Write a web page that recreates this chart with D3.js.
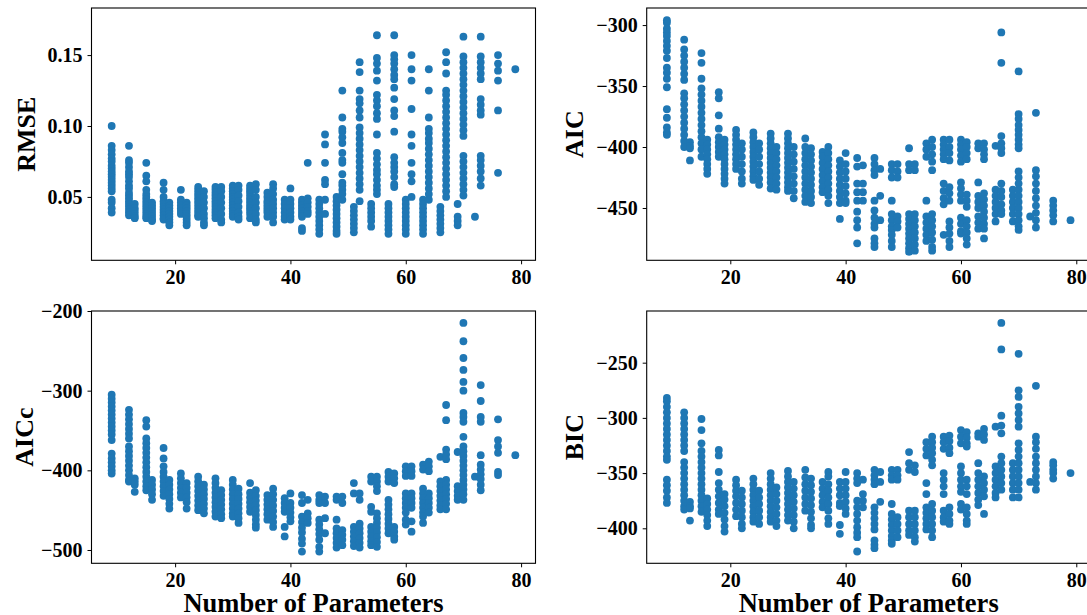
<html>
    <head>
        <meta charset="utf-8">
        <script src="https://cdnjs.cloudflare.com/ajax/libs/d3/7.8.5/d3.min.js"></script>
    </head>
    <style>
        body { margin: 0; background: white; }
        text { font-family: "Liberation Serif", "Times New Roman", serif; font-weight: bold; }
        .tick text { font-size: 20px; fill: black; }
        .tick line { stroke: black; stroke-width: 1; }
        rect.frame { fill: none; stroke: black; stroke-width: 1.1; }
        circle.dot { fill: #1f77b4; }
        text.ylab { font-size: 26px; fill: black; }
        text.xlab { font-size: 26.5px; fill: black; }
    </style>
    <body>
        <svg id="chart" width="1087" height="615"></svg>
        <script>
            // x ticks shared by all four panels
            var xTicks = [20, 40, 60, 80];

            // [number of parameters, values of all models with that count]
            var rmse = [
                [9, [0.100, 0.086, 0.083, 0.080, 0.077, 0.075, 0.072, 0.070, 0.068, 0.066, 0.064, 0.062, 0.060, 0.058, 0.056, 0.054, 0.048, 0.046, 0.042, 0.039]],
                [12, [0.086, 0.076, 0.074, 0.071, 0.068, 0.066, 0.064, 0.061, 0.058, 0.056, 0.053, 0.051, 0.049, 0.047, 0.045, 0.043, 0.041, 0.039, 0.037]],
                [13, [0.045, 0.042, 0.040, 0.038, 0.036, 0.035]],
                [15, [0.074, 0.065, 0.061, 0.055, 0.052, 0.050, 0.048, 0.046, 0.044, 0.042, 0.040, 0.038, 0.036, 0.035]],
                [16, [0.046, 0.044, 0.042, 0.040, 0.038, 0.036, 0.034, 0.033]],
                [18, [0.060, 0.055, 0.050, 0.047, 0.045, 0.043, 0.041, 0.039, 0.037, 0.035, 0.034]],
                [19, [0.046, 0.044, 0.042, 0.040, 0.038, 0.036, 0.034, 0.032, 0.030]],
                [21, [0.055, 0.048, 0.046, 0.044, 0.042, 0.040, 0.038]],
                [22, [0.046, 0.044, 0.042, 0.040, 0.038, 0.036, 0.034, 0.032, 0.030]],
                [24, [0.057, 0.055, 0.053, 0.051, 0.049, 0.047, 0.045, 0.043, 0.041, 0.039, 0.037, 0.036]],
                [25, [0.054, 0.050, 0.046, 0.042, 0.038, 0.035, 0.032, 0.030]],
                [27, [0.057, 0.055, 0.053, 0.051, 0.049, 0.047, 0.045, 0.043, 0.041, 0.039, 0.037, 0.035]],
                [28, [0.057, 0.054, 0.050, 0.046, 0.042, 0.038, 0.034, 0.032]],
                [30, [0.058, 0.056, 0.054, 0.052, 0.050, 0.048, 0.046, 0.044, 0.042, 0.040, 0.038, 0.036]],
                [31, [0.058, 0.055, 0.051, 0.047, 0.043, 0.039, 0.036, 0.034]],
                [33, [0.058, 0.056, 0.054, 0.052, 0.050, 0.048, 0.046, 0.044, 0.042, 0.040, 0.038, 0.035]],
                [34, [0.059, 0.055, 0.050, 0.046, 0.042, 0.038, 0.034, 0.032]],
                [36, [0.053, 0.050, 0.047, 0.045, 0.043, 0.041, 0.039, 0.036]],
                [37, [0.059, 0.056, 0.052, 0.048, 0.045, 0.042, 0.039, 0.036, 0.032]],
                [39, [0.048, 0.045, 0.042, 0.039, 0.036, 0.034]],
                [40, [0.056, 0.048, 0.045, 0.042, 0.039, 0.036, 0.034]],
                [42, [0.048, 0.046, 0.044, 0.042, 0.040, 0.038, 0.036, 0.028, 0.026]],
                [43, [0.074, 0.049, 0.046, 0.043, 0.040, 0.038]],
                [45, [0.048, 0.045, 0.042, 0.039, 0.036, 0.033, 0.030, 0.027, 0.024]],
                [46, [0.094, 0.087, 0.074, 0.062, 0.059, 0.048, 0.038]],
                [48, [0.050, 0.047, 0.044, 0.041, 0.038, 0.035, 0.032, 0.029, 0.026, 0.024]],
                [49, [0.125, 0.106, 0.098, 0.096, 0.092, 0.088, 0.081, 0.076, 0.074, 0.066, 0.060, 0.058, 0.055, 0.052, 0.048]],
                [51, [0.043, 0.040, 0.037, 0.034, 0.031, 0.028, 0.025]],
                [52, [0.145, 0.138, 0.125, 0.119, 0.116, 0.111, 0.106, 0.099, 0.095, 0.091, 0.087, 0.083, 0.079, 0.075, 0.071, 0.067, 0.063, 0.059, 0.055, 0.047]],
                [54, [0.045, 0.042, 0.039, 0.036, 0.033, 0.029]],
                [55, [0.164, 0.148, 0.144, 0.139, 0.132, 0.122, 0.118, 0.114, 0.109, 0.105, 0.094, 0.081, 0.077, 0.073, 0.069, 0.066, 0.062, 0.058, 0.055, 0.052]],
                [57, [0.045, 0.042, 0.039, 0.036, 0.033, 0.030, 0.027, 0.024]],
                [58, [0.164, 0.150, 0.147, 0.144, 0.140, 0.136, 0.133, 0.127, 0.119, 0.111, 0.107, 0.096, 0.078, 0.074, 0.071, 0.068, 0.064, 0.059, 0.057]],
                [60, [0.048, 0.045, 0.042, 0.039, 0.036, 0.033, 0.030, 0.027, 0.024]],
                [61, [0.150, 0.140, 0.132, 0.112, 0.094, 0.086, 0.074, 0.066, 0.061, 0.050]],
                [63, [0.048, 0.045, 0.042, 0.039, 0.036, 0.033, 0.030, 0.027, 0.024]],
                [64, [0.140, 0.125, 0.106, 0.098, 0.095, 0.091, 0.088, 0.084, 0.080, 0.076, 0.072, 0.068, 0.064, 0.060, 0.056, 0.052, 0.048]],
                [66, [0.043, 0.040, 0.037, 0.034, 0.031, 0.028, 0.025]],
                [67, [0.152, 0.145, 0.137, 0.125, 0.122, 0.118, 0.114, 0.110, 0.106, 0.102, 0.098, 0.094, 0.090, 0.086, 0.082, 0.078, 0.074, 0.070, 0.066, 0.062, 0.058, 0.054, 0.050]],
                [69, [0.045, 0.036, 0.033, 0.030]],
                [70, [0.163, 0.149, 0.145, 0.141, 0.137, 0.133, 0.129, 0.125, 0.121, 0.117, 0.113, 0.109, 0.105, 0.101, 0.097, 0.093, 0.079, 0.075, 0.071, 0.067, 0.063, 0.059, 0.055, 0.051]],
                [72, [0.036]],
                [73, [0.163, 0.149, 0.145, 0.141, 0.137, 0.133, 0.119, 0.115, 0.111, 0.108, 0.079, 0.076, 0.072, 0.068, 0.063, 0.058]],
                [76, [0.150, 0.144, 0.139, 0.132, 0.111, 0.067]],
                [79, [0.140]]
            ];

            var aic = [
                [9, [-296, -298, -303, -306, -309, -313, -317, -321, -327, -335, -339, -344, -351, -369, -376, -384, -388, -390]],
                [12, [-312, -320, -325, -330, -335, -340, -345, -356, -360, -365, -370, -375, -380, -385, -390, -395, -400]],
                [13, [-396, -399, -401, -411]],
                [15, [-323, -331, -344, -352, -357, -362, -367, -372, -377, -382, -387, -392, -397, -402, -408]],
                [16, [-394, -398, -402, -406, -410, -414, -418, -422]],
                [18, [-355, -360, -374, -385, -392, -396, -400, -404, -408]],
                [19, [-394, -398, -402, -406, -410, -414, -418, -422, -426, -430]],
                [21, [-386, -390, -394, -398, -402, -406, -410, -414, -418]],
                [22, [-397, -402, -408, -414, -420, -426, -430]],
                [24, [-388, -392, -396, -400, -404, -408, -412, -416, -420, -424, -427]],
                [25, [-397, -402, -408, -414, -420, -426, -431]],
                [27, [-389, -393, -397, -401, -405, -409, -413, -417, -421, -425, -429, -434]],
                [28, [-400, -405, -410, -415, -420, -425, -430, -435]],
                [30, [-389, -393, -397, -401, -405, -409, -413, -417, -421, -425, -429, -433, -436]],
                [31, [-400, -406, -412, -418, -424, -430, -436, -442]],
                [33, [-393, -400, -405, -410, -415, -420, -425, -430, -435, -440, -445]],
                [34, [-401, -406, -411, -416, -421, -426, -431, -436, -441, -446]],
                [36, [-404, -408, -413, -418, -423, -428, -433, -437]],
                [37, [-400, -405, -410, -415, -420, -425, -430, -435, -440, -446]],
                [39, [-411, -416, -421, -426, -431, -436, -441, -446, -459]],
                [40, [-405, -414, -420, -426, -432, -438, -444, -446]],
                [42, [-409, -416, -430, -437, -444, -453, -460, -466, -479]],
                [43, [-415, -430, -437, -444]],
                [45, [-409, -414, -419, -423, -444, -452, -458, -463, -466, -475, -479, -482]],
                [46, [-418, -440, -460]],
                [48, [-414, -419, -425, -444, -455, -460, -465, -468, -472, -477, -482]],
                [49, [-414, -420, -425, -457, -461, -466]],
                [51, [-401, -414, -419, -455, -459, -463, -467, -471, -475, -479, -483, -486]],
                [52, [-414, -419, -455, -460, -465, -470, -475, -480, -485]],
                [54, [-397, -402, -408, -444, -457, -462, -467, -472, -477]],
                [55, [-394, -400, -406, -412, -419, -455, -460, -465, -470, -476, -482, -485]],
                [57, [-394, -398, -402, -406, -410, -430, -436, -442, -447, -472]],
                [58, [-394, -400, -405, -411, -433, -438, -444, -461, -466, -471, -477, -482]],
                [60, [-394, -398, -402, -407, -412, -429, -434, -439, -444, -458, -463, -469, -471]],
                [61, [-396, -400, -405, -410, -439, -444, -449, -460, -465, -470, -475, -480]],
                [63, [-397, -401, -429, -440, -445, -450, -457, -462, -467]],
                [64, [-397, -402, -406, -410, -438, -443, -448, -453, -458, -463, -467, -475]],
                [66, [-399, -435, -440, -445, -450, -455, -461]],
                [67, [-306, -331, -391, -397, -401, -405, -430, -436, -441, -447, -452, -455]],
                [69, [-435, -440, -445, -450, -455, -461]],
                [70, [-338, -373, -377, -382, -386, -390, -394, -398, -401, -420, -425, -430, -435, -440, -445, -450, -455, -460, -465, -468]],
                [72, [-457]],
                [73, [-372, -419, -424, -430, -436, -442, -448, -454, -460, -466]],
                [76, [-444, -448, -452, -456, -461]],
                [79, [-460]]
            ];

            var aicc = [
                [9, [-305, -310, -315, -320, -325, -330, -335, -340, -345, -350, -355, -362, -379, -385, -390, -395, -400, -404]],
                [12, [-324, -330, -336, -342, -348, -354, -360, -370, -376, -382, -388, -394, -400, -406, -412, -414]],
                [13, [-410, -414, -418, -427]],
                [15, [-337, -345, -360, -366, -372, -378, -384, -390, -396, -402, -408, -414, -420, -425]],
                [16, [-412, -418, -424, -430, -437]],
                [18, [-372, -385, -395, -402, -408, -414, -420, -426, -432]],
                [19, [-412, -418, -424, -430, -436, -442, -448]],
                [21, [-404, -410, -416, -422, -428, -434]],
                [22, [-416, -422, -428, -434, -440, -448]],
                [24, [-408, -414, -420, -426, -432, -438, -444, -450]],
                [25, [-418, -424, -430, -436, -442, -448, -454]],
                [27, [-410, -416, -422, -428, -434, -440, -446, -452, -458]],
                [28, [-425, -431, -437, -443, -449, -455, -460]],
                [30, [-412, -418, -424, -430, -436, -442, -448, -454, -458]],
                [31, [-423, -430, -436, -442, -448, -454, -460, -466]],
                [33, [-416, -428, -434, -440, -446, -452]],
                [34, [-425, -432, -438, -444, -450, -456, -462, -468, -472]],
                [36, [-431, -437, -443, -449, -455, -462]],
                [37, [-423, -430, -437, -444, -451, -458, -465, -471]],
                [39, [-435, -441, -447, -452, -471, -483]],
                [40, [-429, -441, -447, -453, -459, -464]],
                [42, [-431, -441, -458, -465, -472, -478, -486, -492, -502]],
                [43, [-437, -454, -460, -466]],
                [45, [-431, -437, -441, -462, -468, -474, -480, -487, -496, -502]],
                [46, [-433, -441, -460, -479]],
                [48, [-433, -437, -462, -473, -479, -485, -491, -497]],
                [49, [-433, -441, -475, -481, -487, -494]],
                [51, [-416, -429, -471, -477, -483, -489, -495]],
                [52, [-429, -437, -467, -473, -479, -485, -491, -497]],
                [54, [-408, -414, -446, -452, -471, -477, -483, -489, -494]],
                [55, [-408, -414, -420, -426, -454, -460, -466, -472, -478, -484, -490, -496]],
                [57, [-402, -408, -414, -437, -443, -449, -455, -461, -467, -473, -479]],
                [58, [-404, -410, -416, -471, -477, -483, -487]],
                [60, [-395, -401, -407, -429, -435, -441, -447, -453, -462, -468]],
                [61, [-395, -401, -407, -429, -435, -441, -447, -464, -477]],
                [63, [-393, -399, -423, -429, -435, -441, -447, -453, -458, -466]],
                [64, [-389, -395, -401, -429, -435, -441, -447, -453]],
                [66, [-383, -414, -420, -426, -432, -438, -444, -449]],
                [67, [-318, -337, -374, -380, -386, -412, -418, -424, -430, -436, -442, -449]],
                [69, [-377, -420, -426, -432, -437]],
                [70, [-215, -238, -259, -274, -289, -300, -328, -333, -339, -358, -370, -376, -382, -388, -394, -400, -406, -412, -418, -424, -430, -437]],
                [72, [-408]],
                [73, [-293, -313, -333, -339, -381, -393, -399, -405, -411, -418, -425]],
                [76, [-336, -362, -370, -378, -402, -406]],
                [79, [-381]]
            ];

            var bic = [
                [9, [-282, -285, -290, -295, -300, -305, -310, -315, -320, -325, -330, -335, -338, -356, -361, -366, -372, -377]],
                [12, [-295, -300, -305, -310, -315, -320, -325, -330, -340, -345, -350, -355, -360, -365, -370, -375, -380, -383]],
                [13, [-376, -380, -382, -393]],
                [15, [-301, -311, -323, -330, -335, -340, -345, -350, -355, -360, -365, -370, -375, -380, -385]],
                [16, [-373, -378, -383, -388, -393, -398]],
                [18, [-329, -334, -349, -359, -365, -371, -377, -383, -387]],
                [19, [-369, -374, -380, -386, -392, -398, -403]],
                [21, [-356, -361, -366, -371, -377, -383, -389]],
                [22, [-366, -372, -378, -384, -390, -396, -400]],
                [24, [-355, -360, -365, -370, -375, -380, -385, -390, -394]],
                [25, [-366, -372, -378, -384, -390, -396]],
                [27, [-350, -355, -360, -365, -370, -375, -380, -385, -390, -394]],
                [28, [-363, -369, -375, -381, -387, -393, -398]],
                [30, [-348, -353, -358, -363, -368, -373, -378, -383, -388, -393]],
                [31, [-358, -364, -370, -376, -382, -388, -394, -400]],
                [33, [-347, -354, -360, -366, -372, -378, -384]],
                [34, [-355, -361, -367, -373, -379, -385, -391, -397, -400]],
                [36, [-358, -364, -370, -376, -381]],
                [37, [-349, -353, -360, -366, -372, -378, -384, -391, -396]],
                [39, [-358, -364, -370, -377, -380, -397, -405]],
                [40, [-349, -358, -364, -370, -376, -382, -387]],
                [42, [-350, -355, -359, -375, -381, -387, -393, -399, -404, -408, -421]],
                [43, [-356, -369, -375, -381]],
                [45, [-347, -352, -356, -360, -381, -386, -391, -396, -401, -411, -415, -418]],
                [46, [-349, -358, -376]],
                [48, [-347, -352, -356, -378, -387, -392, -397, -402, -407, -411, -414]],
                [49, [-347, -352, -356, -390, -396, -402, -408]],
                [51, [-331, -341, -347, -384, -390, -396, -402, -406]],
                [52, [-343, -349, -384, -390, -396, -402, -408, -412]],
                [54, [-322, -328, -334, -359, -369, -381, -386, -391, -396, -401]],
                [55, [-317, -322, -327, -332, -338, -343, -378, -384, -390, -396, -402, -408]],
                [57, [-317, -322, -328, -350, -356, -362, -369, -384, -390, -394]],
                [58, [-316, -321, -327, -332, -381, -387, -393, -396]],
                [60, [-311, -317, -323, -344, -350, -356, -362, -367, -378, -383]],
                [61, [-313, -318, -323, -326, -356, -362, -369, -381, -387, -393, -396]],
                [63, [-314, -317, -341, -350, -356, -362, -368, -374, -379]],
                [64, [-310, -315, -320, -353, -359, -365, -371, -387]],
                [66, [-308, -344, -350, -356, -362, -368, -372]],
                [67, [-214, -238, -298, -307, -314, -335, -341, -347, -353, -359, -365]],
                [69, [-341, -347, -353, -359, -365, -372]],
                [70, [-242, -275, -281, -290, -296, -302, -308, -323, -329, -335, -341, -347, -353, -359, -365, -372]],
                [72, [-358]],
                [73, [-271, -317, -322, -328, -335, -341, -347, -353, -359, -365]],
                [76, [-340, -343, -347, -350, -355]],
                [79, [-350]]
            ];

            var rmseTicks = [0.05, 0.10, 0.15];
            var aicTicks = [-300, -350, -400, -450];
            var aiccTicks = [-200, -300, -400, -500];
            var bicTicks = [-250, -300, -350, -400];

            var panels = [
                {data: rmse, label: "RMSE", ticks: rmseTicks, fmt: d3.format(".2f"), ylim: [0.0053, 0.1832],
                 left: 91.5, top: 8, labelX: 35},
                {data: aic, label: "AIC", ticks: aicTicks, fmt: d3.format("d"), ylim: [-492.9, -286.0],
                 left: 646.7, top: 8, labelX: 583},
                {data: aicc, label: "AICc", ticks: aiccTicks, fmt: d3.format("d"), ylim: [-516.7, -200],
                 left: 91.5, top: 311, labelX: 33, xlabel: true},
                {data: bic, label: "BIC", ticks: bicTicks, fmt: d3.format("d"), ylim: [-431.7, -203.2],
                 left: 646.7, top: 311, labelX: 583, xlabel: true}
            ];

            var pw = 444, ph = 252.3;
            var svg = d3.select("#chart");

            panels.forEach(function(p) {
                var x = d3.scaleLinear().domain([5.5, 82.5]).range([p.left, p.left + pw]);
                var y = d3.scaleLinear().domain(p.ylim).range([p.top + ph, p.top]);

                var pts = [];
                p.data.forEach(function(col) {
                    col[1].forEach(function(v) { pts.push({x: col[0], y: v}); });
                });

                svg.append("g")
                    .selectAll("circle")
                    .data(pts)
                    .enter()
                    .append("circle")
                    .attr("class", "dot")
                    .attr("r", 3.9)
                    .attr("cx", d => x(d.x))
                    .attr("cy", d => y(d.y));

                // d3.format already gives a proper minus sign; keep any ascii one as a real minus
                var minus = s => s.replace("-", "\u2212");

                var gy = svg.append("g")
                    .attr("transform", "translate(" + p.left + ",0)")
                    .call(d3.axisLeft(y).tickValues(p.ticks).tickSize(4).tickPadding(5)
                        .tickFormat(d => minus(p.fmt(d))));
                gy.select(".domain").remove();

                var gx = svg.append("g")
                    .attr("transform", "translate(0," + (p.top + ph) + ")")
                    .call(d3.axisBottom(x).tickValues(xTicks).tickSize(4).tickPadding(6));
                gx.select(".domain").remove();

                svg.append("rect")
                    .attr("class", "frame")
                    .attr("x", p.left)
                    .attr("y", p.top)
                    .attr("width", pw)
                    .attr("height", ph);

                svg.append("text")
                    .attr("class", "ylab")
                    .attr("text-anchor", "middle")
                    .attr("transform", "translate(" + p.labelX + "," + (p.top + ph / 2) + ") rotate(-90)")
                    .text(p.label);

                if (p.xlabel) {
                    svg.append("text")
                        .attr("class", "xlab")
                        .attr("text-anchor", "middle")
                        .attr("x", p.left + pw / 2)
                        .attr("y", 611.5)
                        .text("Number of Parameters");
                }
            });
        </script>
    </body>
</html>
